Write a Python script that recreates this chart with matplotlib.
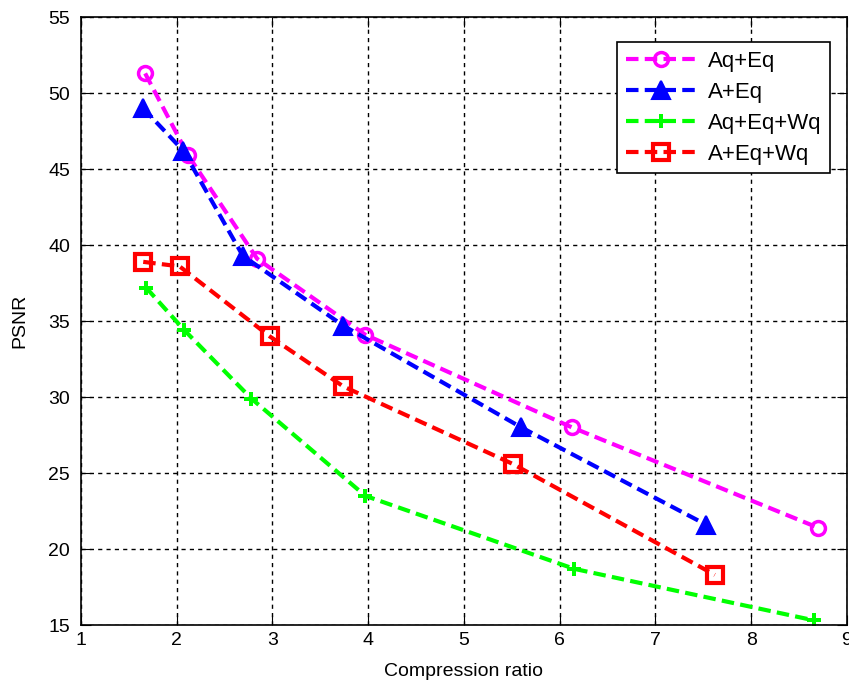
import matplotlib
matplotlib.use("Agg")
import matplotlib.pyplot as plt

plt.rcParams['font.family'] = ['Liberation Sans', 'DejaVu Sans']

aq_eq_x = [1.67, 2.12, 2.84, 3.97, 6.13, 8.70]
aq_eq_y = [51.3, 45.9, 39.1, 34.1, 28.0, 21.4]

a_eq_x = [1.65, 2.07, 2.69, 3.74, 5.60, 7.53]
a_eq_y = [49.0, 46.2, 39.3, 34.7, 28.0, 21.6]

aq_eq_wq_x = [1.68, 2.08, 2.78, 3.97, 6.15, 8.66]
aq_eq_wq_y = [37.2, 34.4, 29.9, 23.5, 18.7, 15.3]

a_eq_wq_x = [1.65, 2.03, 2.97, 3.74, 5.51, 7.62]
a_eq_wq_y = [38.9, 38.6, 34.0, 30.7, 25.6, 18.3]

labels = ['Aq+Eq', 'A+Eq', 'Aq+Eq+Wq', 'A+Eq+Wq']

fig = plt.figure(figsize=(8.49, 6.87), dpi=100)
ax = fig.add_axes([0.0954, 0.0902, 0.9022, 0.8848])

ax.plot(aq_eq_x, aq_eq_y, '--', color='#ff00ff', lw=3, marker='o', ms=10,
        mfc='none', mew=2.5, label=labels[0], dashes=(3, 1.5))
ax.plot(a_eq_x, a_eq_y, '--', color='#0000ff', lw=3, marker='^', ms=13,
        mfc='#0000ff', mew=1.5, label=labels[1], dashes=(3, 1.5))
ax.plot(aq_eq_wq_x, aq_eq_wq_y, '--', color='#00ff00', lw=3, marker='P', ms=10,
        mfc='#00ff00', mew=0, label=labels[2], dashes=(3, 1.5))
ax.plot(a_eq_wq_x, a_eq_wq_y, '--', color='#ff0000', lw=3, marker='s', ms=11,
        mfc='none', mew=3, label=labels[3], dashes=(3, 1.5))

ax.set_xlim(1, 9)
ax.set_ylim(15, 55)
ax.set_xticks(range(1, 10))
ax.set_yticks(range(15, 56, 5))
ax.grid(True, color='black', linestyle=(0, (3, 3)), lw=1)
ax.tick_params(direction='in', top=True, right=True, labelsize=14, length=7)
ax.tick_params(axis='x', pad=5)
ax.tick_params(axis='y', pad=8)
for s in ax.spines.values():
    s.set_linewidth(1.2)

ax.set_xlabel('Compression ratio', fontsize=14, labelpad=10)
ax.set_ylabel('PSNR', fontsize=14, labelpad=14)

leg = ax.legend(loc='upper right', bbox_to_anchor=(0.993, 0.978), fontsize=16,
                fancybox=False, framealpha=1, edgecolor='black',
                handlelength=3.2, borderpad=0.4, labelspacing=0.45,
                handletextpad=0.5)
leg.get_frame().set_linewidth(1.2)

fig.savefig('out.png', dpi=100)
